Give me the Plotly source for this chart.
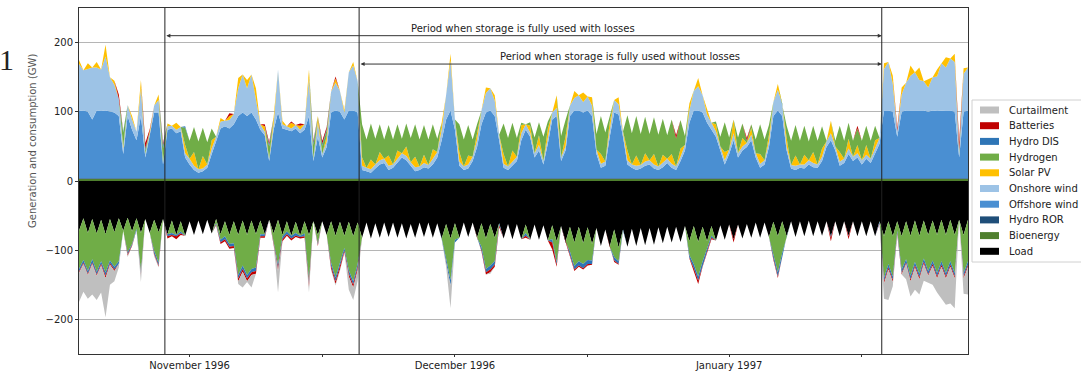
import pandas as pd
import plotly.graph_objects as go

# ---------------- data (GW, 12-hourly) ----------------
start_time = "1996-10-19 12:00"
n_points = 202

load = [72,54,75,55,76,56,77,55,74,54, 72,53,73,54,75,55,75,56,74,55,
        77,57,78,58,79,58,78,57,77,56, 76,55,77,58,78,58,78,57,78,57,
        77,57,77,56,76,56,78,58,79,59, 79,58,78,58,78,58,78,58,79,59,
        79,59,80,60,82,60,83,61,82,60, 81,60,82,61,83,62,82,60,81,60,
        82,61,83,62,83,61,82,60,81,60, 82,61,83,62,82,61,83,62,84,62,
        84,63,85,63,85,64,86,64,87,65, 88,66,89,66,90,67,91,68,94,70,
        95,70,96,70,95,69,94,68,93,68, 92,67,90,66,89,66,88,65,87,65,
        88,66,87,65,86,64,85,63,84,63, 83,62,82,60,82,60,81,59,80,58,
        80,58,81,58,80,57,80,58,79,58, 80,58,80,58,79,58,80,58,80,58,
        80,58,80,58,80,58,80,58,79,57, 79,57,78,57,78,56,78,56,78,56,
        78,56]

offshore = [97,98,96,85,98,97,98,96,95,90, 35,90,70,55,90,30,60,95,95,20,
            70,72,65,68,30,20,12,8,10,15, 35,55,72,75,72,78,90,95,90,95,
            85,70,62,25,70,95,72,70,68,72, 65,70,90,25,60,30,45,95,98,96,
            85,98,98,95,12,10,8,14,20,22, 12,15,22,30,26,18,10,12,16,14,
            20,30,55,85,98,70,18,12,14,25, 45,78,95,98,90,55,15,12,18,25,
            55,70,60,30,40,20,50,85,90,25, 40,90,98,98,95,98,90,35,15,18,
            60,95,92,60,20,15,12,14,18,20, 14,12,16,22,15,12,25,40,80,98,
            98,95,80,70,60,40,20,35,55,30, 40,45,55,30,15,20,45,90,98,90,
            40,14,12,15,14,20,16,15,25,45, 55,40,18,22,35,25,30,20,28,22,
            35,50,98,98,96,60,96,98,98,98, 97,98,96,98,97,98,98,98,96,30,
            96,98]

onshore = [68,58,62,75,62,60,78,50,40,25, 8,16,15,12,40,5,5,10,18,3,
           5,4,5,6,6,8,6,5,4,5, 8,5,10,8,12,15,40,55,40,55,
           30,8,5,3,8,62,6,5,4,5, 5,8,55,3,20,5,8,30,40,30,
           10,55,65,45,6,5,5,6,6,6, 6,5,6,6,6,5,6,5,6,5,
           8,8,15,35,72,15,6,5,6,6, 10,20,28,32,22,8,6,5,6,6,
           10,8,6,6,8,5,8,10,12,5, 6,15,18,22,15,20,15,6,6,6,
           10,18,15,8,6,5,6,5,6,6, 6,5,6,6,6,5,6,8,18,28,
           35,25,12,10,8,6,6,6,10,6, 6,6,8,6,6,6,8,20,30,18,
           6,5,6,5,6,6,6,5,6,8, 10,6,6,6,8,6,6,6,6,6,
           8,8,60,70,40,8,25,40,50,55, 45,42,35,48,50,68,62,75,72,5,
           55,62]

solar = [6,0,8,0,8,0,17,0,6,0, 3,0,5,0,12,0,4,0,8,0,
         4,0,10,0,12,0,20,0,18,0, 12,0,5,0,6,0,15,0,12,0,
         15,0,8,0,10,0,5,0,8,0, 6,0,12,0,10,0,8,0,6,0,
         4,0,5,0,12,0,14,0,12,0, 15,0,12,0,14,0,15,0,12,0,
         14,0,10,0,10,0,14,0,13,0, 10,0,8,0,8,0,14,0,16,0,
         12,0,10,0,14,0,14,0,18,0, 14,0,10,0,14,0,12,0,14,0,
         12,0,10,0,14,0,15,0,12,0, 15,0,12,0,14,0,12,0,10,0,
         12,0,8,0,10,0,12,0,20,0, 12,0,10,0,14,0,10,0,8,0,
         12,0,15,0,14,0,16,0,12,0, 18,0,14,0,14,0,12,0,14,0,
         12,0,8,0,12,0,10,0,15,0, 18,0,12,0,10,0,15,0,12,0,
         8,0]

hydrogen_out = [0,0,0,0,0,0,0,0,0,0, 20,0,0,0,0,5,0,0,0,20,
                0,0,0,0,25,26,36,40,41,32, 17,0,0,0,0,0,0,0,0,0,
                0,0,0,18,0,0,0,0,0,0, 0,0,0,20,0,12,8,0,0,0,
                0,0,0,0,48,41,52,37,40,28, 44,36,38,21,33,35,47,39,43,37,
                36,19,0,0,0,0,40,39,44,25, 13,0,0,0,0,0,44,41,40,27,
                3,0,5,23,19,35,10,0,0,31, 24,0,0,0,0,0,0,23,55,42,
                9,0,0,0,51,45,57,45,53,38, 53,46,52,34,50,40,41,13,0,0,
                0,0,0,0,4,14,43,18,0,23, 21,3,5,20,43,30,14,0,0,0,
                18,35,44,34,42,27,38,34,32,1, 0,8,38,26,23,23,24,28,28,26,
                21,0,0,0,0,0,0,0,0,0, 0,0,0,0,0,0,0,0,0,5,
                0,0]

hydro_dis_out = [0,0,0,0,0,0,0,0,0,0, 2,0,0,0,0,3,0,0,0,5,
                 0,0,0,0,2,0,0,0,0,0, 0,0,0,0,0,0,0,0,0,0,
                 0,0,0,3,0,0,0,0,0,0, 0,0,0,4,0,3,2,0,0,0,
                 0,0,0,0,0,0,0,0,0,0, 0,0,0,0,0,0,0,0,0,0,
                 0,0,0,0,0,0,0,0,0,0, 0,0,0,0,0,0,0,0,0,0,
                 0,0,0,0,0,0,0,0,0,0, 0,0,0,0,0,0,0,0,0,0,
                 0,0,0,0,0,0,0,0,0,0, 0,0,0,0,0,0,0,0,0,0,
                 0,0,0,0,0,0,0,0,0,0, 0,0,0,0,0,0,0,0,0,0,
                 0,0,0,0,0,0,0,0,0,0, 0,0,0,0,0,0,0,0,0,0,
                 0,0,0,0,0,0,0,0,0,0, 0,0,0,0,0,0,0,0,0,0,
                 0,0]

batteries_out = [0,0,0,0,0,0,0,0,0,6, 0,0,0,0,0,8,2,0,0,3,
                 0,0,0,0,0,0,0,0,0,0, 0,0,0,0,4,0,0,0,0,0,
                 0,0,3,3,0,0,0,0,2,0, 3,0,0,2,0,4,3,0,3,0,
                 0,0,0,0,0,0,0,0,0,0, 0,0,0,0,0,0,0,0,0,0,
                 0,0,0,0,0,0,0,0,0,0, 0,0,0,0,0,0,0,0,0,0,
                 0,0,0,0,0,0,0,0,0,0, 0,0,0,0,0,0,0,0,0,0,
                 0,0,0,0,0,0,0,0,0,0, 0,0,0,0,0,5,0,0,0,0,
                 0,0,0,0,0,0,0,0,0,0, 0,4,0,0,0,0,0,0,0,0,
                 0,0,0,0,0,0,0,0,0,0, 0,0,0,0,0,0,4,0,0,0,
                 0,0,0,0,0,5,0,0,0,0, 0,0,0,0,0,0,0,0,0,12,
                 0,0]

hydrogen_in = [55,60,55,58,55,60,55,60,50,62, 0,50,18,15,55,0,0,45,44,0,
               0,18,0,15,0,0,0,0,0,0, 0,6,8,22,13,32,58,65,58,70,
               48,20,0,0,12,65,2,15,0,16, 0,18,65,0,12,0,0,60,60,60,
               18,70,65,60,0,0,0,0,0,0, 0,0,0,0,0,0,0,0,0,0,
               0,0,0,50,60,24,0,0,0,0, 0,34,44,60,34,0,0,0,0,0,
               0,12,0,0,0,0,0,20,30,0, 0,36,34,50,30,47,24,0,0,0,
               0,40,20,0,0,0,0,0,0,0, 0,0,0,0,0,0,0,0,20,55,
               50,50,12,14,0,0,0,0,0,0, 0,0,0,0,0,0,0,48,52,46,
               0,0,0,0,0,0,0,0,0,0, 0,0,0,0,0,0,0,0,0,0,
               0,0,60,62,58,14,48,55,58,60, 55,55,52,58,55,60,55,60,55,0,
               55,60]

hydro_dis_in = [4,4,4,5,4,4,5,4,4,4, 0,3,2,2,4,0,0,4,4,0,
                3,3,2,3,0,0,0,0,0,0, 0,2,4,4,4,4,5,5,5,5,
                5,3,3,0,2,5,4,4,4,4, 2,4,5,0,2,0,0,5,6,5,
                4,5,5,5,0,0,0,0,0,0, 0,0,0,0,0,0,0,0,0,0,
                0,0,1,6,8,4,0,0,0,0, 0,5,5,6,5,3,0,0,0,0,
                0,4,0,0,0,0,0,5,4,0, 0,5,5,6,6,6,5,0,0,0,
                0,5,4,2,0,0,0,0,0,0, 0,0,0,0,0,0,0,0,4,6,
                6,5,3,3,0,0,0,0,0,0, 0,0,0,0,0,0,0,5,6,6,
                0,0,0,0,0,0,0,0,0,0, 2,0,0,0,1,0,0,0,0,0,
                0,3,5,5,5,3,5,5,5,5, 5,5,5,5,5,5,5,5,5,0,
                5,5]

batteries_in = [2,2,2,2,2,2,3,2,2,0, 0,2,1,0,2,0,0,2,2,0,
                3,2,4,2,0,0,0,0,0,0, 0,1,2,3,3,3,4,4,4,4,
                4,2,2,0,2,4,3,2,3,2, 2,2,5,0,2,0,0,4,4,4,
                2,4,4,4,0,0,0,0,0,0, 0,0,0,0,0,0,0,0,0,0,
                0,0,0,0,0,0,0,0,0,0, 0,2,3,4,3,3,0,0,0,0,
                0,3,0,0,0,0,0,10,3,0, 0,2,2,2,2,2,1,0,0,0,
                0,2,1,0,0,0,0,0,0,0, 0,0,0,0,0,0,0,0,1,4,
                5,3,2,2,0,0,0,0,5,0, 0,0,0,0,0,0,0,2,2,2,
                0,0,0,0,0,0,0,0,0,0, 5,0,0,0,4,0,0,0,0,0,
                0,1,3,3,3,2,2,2,3,3, 3,3,2,3,3,3,3,3,3,0,
                3,3]

curtailment = [42,40,34,44,35,39,57,29,15,5, 0,2,0,0,10,0,0,2,1,0,
               0,0,0,0,0,0,0,0,0,0, 0,0,0,0,0,0,4,23,1,18,
               0,0,0,0,0,31,0,0,0,0, 0,0,8,0,0,0,0,2,2,2,
               0,19,18,15,0,0,0,0,0,0, 0,0,0,0,0,0,0,0,0,0,
               0,0,0,6,33,0,0,0,0,0, 0,0,0,2,0,0,0,0,0,0,
               0,0,0,0,0,0,0,0,0,0, 0,0,0,0,0,0,0,0,0,0,
               0,0,0,0,0,0,0,0,0,0, 0,0,0,0,0,0,0,0,0,0,
               0,0,0,0,0,0,0,0,0,0, 0,0,0,0,0,0,0,0,0,0,
               0,0,0,0,0,0,0,0,0,0, 0,0,0,0,0,0,0,0,0,0,
               0,0,22,44,6,0,0,22,22,32, 22,24,10,27,20,46,38,53,43,0,
               22,40]

bioenergy = [3]*n_points   # flat band read at ~3 GW
hydro_ror = [1]*n_points   # flat band read at ~1 GW

# period markers and axis labels
period_losses = ("1996-10-29 05:00", "1997-01-18 06:00")
period_no_losses = ("1996-11-20 04:00", "1997-01-18 06:00")
month_ticks = ["1996-11-01", "1996-12-01", "1997-01-01"]
month_labels = ["November 1996", "December 1996", "January 1997"]
mid_ticks = ["1996-11-16", "1996-12-16", "1997-01-16"]
legend_names = ["Curtailment", "Batteries", "Hydro DIS", "Hydrogen", "Solar PV",
                "Onshore wind", "Offshore wind", "Hydro ROR", "Bioenergy", "Load"]

# ---------------------------------------------------------------------------
W, H = 1081, 371
L_M, R_M, T_M, B_M = 79, 113, 8, 17
PW, PH = W - L_M - R_M, H - T_M - B_M


def px(xp):  # pixel -> paper x
    return (xp - L_M) / PW


def py(yp):  # pixel -> paper y
    return (H - B_M - yp) / PH


times = pd.date_range(start_time, periods=n_points, freq="12h")
FONT = "DejaVu Sans"

colors = {
    "Curtailment": "#bfbfbf", "Batteries": "#c00000", "Hydro DIS": "#2e75b6",
    "Hydrogen": "#70ad47", "Solar PV": "#ffc000", "Onshore wind": "#9dc3e6",
    "Offshore wind": "#4a8fd2", "Hydro ROR": "#1f4e79", "Bioenergy": "#4f7f2e",
    "Load": "#000000",
}

fig = go.Figure()


def add(name, vals, group, sign):
    fig.add_trace(go.Scatter(
        x=times, y=[sign * v for v in vals], name=name, stackgroup=group,
        mode="lines", line=dict(width=0, color=colors[name]),
        fillcolor=colors[name], showlegend=False, hoverinfo="skip"))


add("Bioenergy", bioenergy, "pos", 1)
add("Hydro ROR", hydro_ror, "pos", 1)
add("Offshore wind", offshore, "pos", 1)
add("Onshore wind", onshore, "pos", 1)
add("Solar PV", solar, "pos", 1)
add("Hydrogen", hydrogen_out, "pos", 1)
add("Hydro DIS", hydro_dis_out, "pos", 1)
add("Batteries", batteries_out, "pos", 1)

add("Load", load, "neg", -1)
add("Hydrogen", hydrogen_in, "neg", -1)
add("Hydro DIS", hydro_dis_in, "neg", -1)
add("Batteries", batteries_in, "neg", -1)
add("Curtailment", curtailment, "neg", -1)

shapes = []
for xv in (period_losses[0], period_no_losses[0], period_losses[1]):
    shapes.append(dict(type="line", xref="x", yref="paper", x0=xv, x1=xv,
                       y0=0, y1=1, line=dict(color="#222222", width=1)))

annotations = []
for (a, b), y_arrow, y_text, label in [
        (period_losses, 210, 221, "Period when storage is fully used with losses"),
        (period_no_losses, 169, 180, "Period when storage is fully used without losses")]:
    annotations.append(dict(x=b, y=y_arrow, ax=a, ay=y_arrow, xref="x", yref="y",
                            axref="x", ayref="y", text="", showarrow=True,
                            arrowhead=2, arrowside="end+start", arrowsize=0.8,
                            arrowwidth=1, arrowcolor="#333333"))
    mid = pd.Timestamp(a) + (pd.Timestamp(b) - pd.Timestamp(a)) / 2
    annotations.append(dict(x=mid, y=y_text, xref="x", yref="y", text=label,
                            showarrow=False, font=dict(family=FONT, size=10, color="#222222")))

# panel number and (cropped) y-axis title
annotations.append(dict(x=px(6), y=py(59), xref="paper", yref="paper", text="1",
                        xanchor="center", yanchor="middle", showarrow=False,
                        font=dict(family="Liberation Serif", size=30, color="#222222")))
annotations.append(dict(x=px(33), y=py(141), xref="paper", yref="paper",
                        text="Generation and consumption (GW)", textangle=-90,
                        xanchor="center", yanchor="middle", showarrow=False,
                        font=dict(family=FONT, size=10, color="#555555")))

# custom legend (matplotlib style)
shapes.append(dict(type="rect", xref="paper", yref="paper", x0=px(972), x1=px(1100),
                   y0=py(262), y1=py(100), line=dict(color="#d0d0d0", width=1),
                   fillcolor="white", layer="above"))
for k, name in enumerate(legend_names):
    yc = 110 + k * 15.7
    shapes.append(dict(type="rect", xref="paper", yref="paper", x0=px(980), x1=px(999),
                       y0=py(yc + 3.5), y1=py(yc - 3.5), line=dict(width=0),
                       fillcolor=colors[name], layer="above"))
    annotations.append(dict(x=px(1007), y=py(yc), xref="paper", yref="paper",
                            text=name, showarrow=False, xanchor="left", yanchor="middle",
                            font=dict(family=FONT, size=10, color="#222222")))

fig.update_layout(
    width=W, height=H,
    margin=dict(l=L_M, r=R_M, t=T_M, b=B_M),
    paper_bgcolor="white", plot_bgcolor="white",
    font=dict(family=FONT, size=10, color="#222222"),
    shapes=shapes, annotations=annotations, showlegend=False,
    xaxis=dict(range=[times[0], times[-1]], showgrid=False, automargin=False,
               tickvals=month_ticks, ticktext=month_labels,
               ticks="outside", ticklen=2, tickcolor="#333333",
               minor=dict(tickvals=mid_ticks, ticks="outside", ticklen=2,
                          tickcolor="#333333", showgrid=False),
               showline=True, mirror=True, linecolor="#333333", linewidth=1,
               tickfont=dict(size=10)),
    yaxis=dict(range=[-250, 250], tickvals=[-200, -100, 0, 100, 200], automargin=False,
               showgrid=True, gridcolor="#b5b5b5", gridwidth=1, zeroline=False,
               ticks="outside", ticklen=3, tickcolor="#333333",
               showline=True, mirror=True, linecolor="#333333", linewidth=1,
               tickfont=dict(size=10)),
)

fig.write_html("out.html", config={"displayModeBar": False},
               post_script="document.body.style.margin='0';document.body.style.padding='0';")
